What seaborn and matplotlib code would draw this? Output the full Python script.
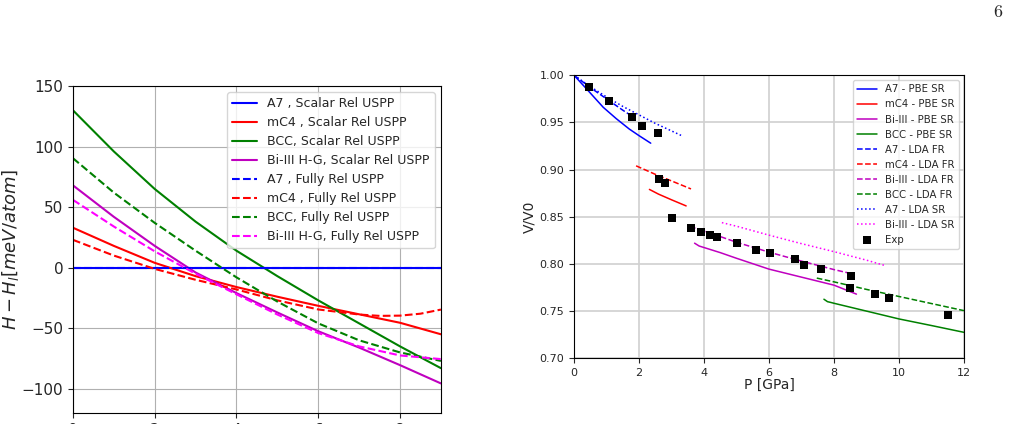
import numpy as np
import pandas as pd
import matplotlib
matplotlib.use("Agg")
import matplotlib.pyplot as plt
import seaborn as sns

# ---- left panel: enthalpy difference vs pressure ----
p_left = [0, 1, 2, 3, 4, 5, 6, 7, 8, 9]
a7_sr = [0, 0, 0, 0, 0, 0, 0, 0, 0, 0]
mc4_sr = [33, 18, 4, -7, -16, -24, -31.5, -38.5, -45.5, -55]
bcc_sr = [130, 96, 65, 38, 14, -7, -27, -46, -65, -83]
bi3_sr = [68, 42, 18, -4, -21, -37, -52.5, -66, -80.5, -95.6]
a7_fr = [0, 0, 0, 0, 0, 0, 0, 0, 0, 0]
p_mc4_fr = [0, 1, 2, 3, 4, 5, 6, 7, 7.5, 8, 8.5, 9]
mc4_fr = [23, 10, -1, -10, -18, -27, -34.5, -38.7, -39.8, -39.6, -38, -34.6]
bcc_fr = [90.4, 62, 37, 14, -8, -28, -46, -60, -70, -77]
bi3_fr = [56, 34, 13.5, -5, -22, -38.7, -54, -65, -72.5, -75.5]

# ---- right panel: V/V0 vs pressure ----
p_a7_pbe = [0, 0.4, 0.9, 1.3, 1.7, 2.0, 2.36]
v_a7_pbe = [1.0, 0.985, 0.966, 0.954, 0.943, 0.936, 0.928]
p_mc4_pbe = [2.32, 2.6, 3.0, 3.45]
v_mc4_pbe = [0.879, 0.874, 0.868, 0.8615]
p_bi3_pbe = [3.71, 3.85, 4.5, 5.0, 6.0, 7.0, 8.0, 8.69]
v_bi3_pbe = [0.822, 0.819, 0.812, 0.806, 0.7945, 0.786, 0.7775, 0.768]
p_bcc_pbe = [7.69, 7.8, 7.9, 8.0, 9.0, 10.0, 11.0, 12.0]
v_bcc_pbe = [0.7626, 0.760, 0.7592, 0.7583, 0.750, 0.7417, 0.7347, 0.7275]
p_a7_fr = [0, 0.5, 1.0, 1.5, 1.88]
v_a7_fr = [1.0, 0.987, 0.975, 0.963, 0.9545]
p_mc4_lfr = [1.91, 2.5, 3.0, 3.6]
v_mc4_lfr = [0.904, 0.895, 0.888, 0.8795]
p_bi3_lfr = [3.57, 4.0, 5.0, 6.0, 7.0, 8.0, 8.5]
v_bi3_lfr = [0.8396, 0.835, 0.823, 0.8125, 0.803, 0.794, 0.790]
p_bcc_lfr = [7.47, 8.0, 9.0, 10.0, 11.0, 12.0]
v_bcc_lfr = [0.785, 0.781, 0.773, 0.7655, 0.758, 0.7505]
p_a7_lsr = [0, 0.5, 1.0, 1.5, 2.0, 2.5, 3.0, 3.31]
v_a7_lsr = [1.0, 0.988, 0.977, 0.967, 0.958, 0.949, 0.941, 0.936]
p_bi3_lsr = [4.55, 5.0, 6.0, 7.0, 8.0, 9.0, 9.6]
v_bi3_lsr = [0.8438, 0.840, 0.8305, 0.8215, 0.813, 0.804, 0.798]
p_exp = [0.45, 1.08, 1.79, 2.10, 2.59, 2.61, 2.79, 3.01, 3.60, 3.90, 4.19, 4.39,
         5.01, 5.61, 6.02, 6.81, 7.09, 7.60, 8.51, 8.50, 9.27, 9.69, 11.51]
v_exp = [0.988, 0.973, 0.956, 0.946, 0.939, 0.890, 0.886, 0.849, 0.838, 0.834, 0.831, 0.829,
         0.822, 0.815, 0.812, 0.805, 0.799, 0.795, 0.787, 0.775, 0.768, 0.764, 0.746]

sns.set_style("ticks", {"axes.grid": True, "axes.edgecolor": "black",
                        "xtick.direction": "out", "ytick.direction": "out"})
plt.rcParams['font.family'] = ['DejaVu Sans']

fig = plt.figure(figsize=(10.09, 4.24), dpi=100)
ax1 = fig.add_axes([0.0723, 0.026, 0.3647, 0.771])
ax2 = fig.add_axes([0.5689, 0.155, 0.3865, 0.6675])

left_series = [
    (p_left, a7_sr, 'b', '-', 'A7 , Scalar Rel USPP'),
    (p_left, mc4_sr, 'r', '-', 'mC4 , Scalar Rel USPP'),
    (p_left, bcc_sr, 'g', '-', 'BCC, Scalar Rel USPP'),
    (p_left, bi3_sr, 'm', '-', 'Bi-III H-G, Scalar Rel USPP'),
    (p_left, a7_fr, 'b', '--', 'A7 , Fully Rel USPP'),
    (p_mc4_fr, mc4_fr, 'r', '--', 'mC4 , Fully Rel USPP'),
    (p_left, bcc_fr, 'g', '--', 'BCC, Fully Rel USPP'),
    (p_left, bi3_fr, 'magenta', '--', 'Bi-III H-G, Fully Rel USPP'),
]
for x, y, c, ls, lab in left_series:
    sns.lineplot(x=x, y=y, ax=ax1, color=c, linestyle=ls, lw=1.5, label=lab)

ax1.set_xlim(0, 9)
ax1.set_ylim(-120, 150)
ax1.set_xticks([0, 2, 4, 6, 8])
ax1.set_yticks([-100, -50, 0, 50, 100, 150])
ax1.tick_params(labelsize=11)
ax1.grid(True, color='#b0b0b0', lw=0.8)
ax1.set_ylabel(r'$H - H_l [meV/atom]$', fontsize=13)
ax1.yaxis.set_label_coords(-0.142, 0.5)
ax1.legend(loc='upper right', fontsize=9, labelspacing=0.48)

right_series = [
    (p_a7_pbe, v_a7_pbe, 'b', '-', 'A7 - PBE SR'),
    (p_mc4_pbe, v_mc4_pbe, 'r', '-', 'mC4 - PBE SR'),
    (p_bi3_pbe, v_bi3_pbe, 'm', '-', 'Bi-III - PBE SR'),
    (p_bcc_pbe, v_bcc_pbe, 'g', '-', 'BCC - PBE SR'),
    (p_a7_fr, v_a7_fr, 'b', '--', 'A7 - LDA FR'),
    (p_mc4_lfr, v_mc4_lfr, 'r', '--', 'mC4 - LDA FR'),
    (p_bi3_lfr, v_bi3_lfr, 'm', '--', 'Bi-III - LDA FR'),
    (p_bcc_lfr, v_bcc_lfr, 'g', '--', 'BCC - LDA FR'),
    (p_a7_lsr, v_a7_lsr, 'b', ':', 'A7 - LDA SR'),
    (p_bi3_lsr, v_bi3_lsr, 'magenta', ':', 'Bi-III - LDA SR'),
]
for x, y, c, ls, lab in right_series:
    sns.lineplot(x=x, y=y, ax=ax2, color=c, linestyle=ls, lw=1.1, label=lab)
sns.scatterplot(x=p_exp, y=v_exp, ax=ax2, color='k', marker='s', s=30,
                linewidth=0, label='Exp', zorder=5)

ax2.set_xlim(0, 12)
ax2.set_ylim(0.70, 1.00)
ax2.set_xticks(np.arange(0, 13, 2))
ax2.set_yticks(np.arange(0.70, 1.001, 0.05))
ax2.set_yticklabels([f"{v:.2f}" for v in np.arange(0.70, 1.001, 0.05)])
ax2.tick_params(labelsize=8)
ax2.grid(True, color='#d0d0d0', lw=1.2)
ax2.set_xlabel('P [GPa]', fontsize=10, labelpad=0)
ax2.set_ylabel('V/V0', fontsize=10, labelpad=2)
ax2.legend(loc='upper right', fontsize=7.3)

fig.text(0.989, 0.972, r'$\mathrm{6}$', math_fontfamily='cm', fontsize=13,
         ha='center', va='center')

fig.savefig('out.png', dpi=100)
